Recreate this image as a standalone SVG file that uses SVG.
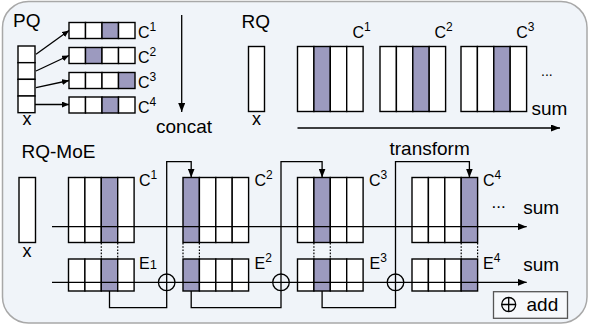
<svg xmlns="http://www.w3.org/2000/svg" width="589" height="330" viewBox="0 0 589 330">
<defs>
<marker id="ah" markerWidth="9" markerHeight="7" refX="9" refY="3.5" orient="auto" markerUnits="userSpaceOnUse"><path d="M0,0 L9,3.5 L0,7 z" fill="#000"/></marker>
<marker id="ahs" markerWidth="7" markerHeight="6" refX="7" refY="3" orient="auto" markerUnits="userSpaceOnUse"><path d="M0,0 L7,3 L0,6 z" fill="#000"/></marker>
</defs>
<style>
.t{font-family:"Liberation Sans",Arial,sans-serif;fill:#000}
.big{font-size:19px}
.lbl{font-size:16px}
.c{fill:#fff;stroke:#000;stroke-width:1.4}
.s{fill:#9c9abf;stroke:#000;stroke-width:1.4}
.ln{stroke:#000;stroke-width:1.3;fill:none}
.dot{stroke:#000;stroke-width:1.2;stroke-dasharray:1.6 1.6}
</style>
<rect x="2.5" y="1.5" width="584.5" height="321.5" rx="26" fill="#f0f4f9" stroke="#a8a8a8" stroke-width="1.5"/>

<g id="pq">
<text class="t big" x="13" y="27">PQ</text>
<g id="pq-x">
<rect class="c" x="18" y="46" width="17" height="16.67"/>
<rect class="c" x="18" y="62.67" width="17" height="16.67"/>
<rect class="c" x="18" y="79.33" width="17" height="16.67"/>
<rect class="c" x="18" y="96" width="17" height="16.67"/>
<text class="t" font-size="18" x="27" y="124.5" text-anchor="middle">x</text>
</g>
<g id="pq-c1">
<rect class="c" x="69" y="22.5" width="16.5" height="16"/><rect class="c" x="85.5" y="22.5" width="16.5" height="16"/><rect class="s" x="102" y="22.5" width="16.5" height="16"/><rect class="c" x="118.5" y="22.5" width="16.5" height="16"/>
<text class="t lbl" x="138" y="38">C<tspan font-size="12" dy="-7">1</tspan></text>
</g>
<g id="pq-c2">
<rect class="c" x="69" y="47.5" width="16.5" height="16"/><rect class="s" x="85.5" y="47.5" width="16.5" height="16"/><rect class="c" x="102" y="47.5" width="16.5" height="16"/><rect class="c" x="118.5" y="47.5" width="16.5" height="16"/>
<text class="t lbl" x="138" y="63.3">C<tspan font-size="12" dy="-7">2</tspan></text>
</g>
<g id="pq-c3">
<rect class="c" x="69" y="72.5" width="16.5" height="16"/><rect class="c" x="85.5" y="72.5" width="16.5" height="16"/><rect class="c" x="102" y="72.5" width="16.5" height="16"/><rect class="s" x="118.5" y="72.5" width="16.5" height="16"/>
<text class="t lbl" x="138" y="88">C<tspan font-size="12" dy="-7">3</tspan></text>
</g>
<g id="pq-c4">
<rect class="c" x="69" y="97" width="16.5" height="16"/><rect class="c" x="85.5" y="97" width="16.5" height="16"/><rect class="s" x="102" y="97" width="16.5" height="16"/><rect class="c" x="118.5" y="97" width="16.5" height="16"/>
<text class="t lbl" x="138" y="112.5">C<tspan font-size="12" dy="-7">4</tspan></text>
</g>
<text class="t big" x="156" y="133">concat</text>
</g>

<g id="rq">
<text class="t big" x="241.5" y="27.5">RQ</text>
<g id="rq-x">
<rect class="c" x="248.5" y="46.5" width="16" height="65"/>
<text class="t" font-size="18" x="256.5" y="124.5" text-anchor="middle">x</text>
</g>
<g id="rq-c1">
<rect class="c" x="297.5" y="46.5" width="16.4" height="65"/><rect class="s" x="313.9" y="46.5" width="16.4" height="65"/><rect class="c" x="330.3" y="46.5" width="16.4" height="65"/><rect class="c" x="346.7" y="46.5" width="16.4" height="65"/>
<text class="t lbl" x="352.5" y="37.7">C<tspan font-size="12" dy="-7">1</tspan></text>
</g>
<g id="rq-c2">
<rect class="c" x="380" y="46.5" width="16.4" height="65"/><rect class="c" x="396.4" y="46.5" width="16.4" height="65"/><rect class="s" x="412.8" y="46.5" width="16.4" height="65"/><rect class="c" x="429.2" y="46.5" width="16.4" height="65"/>
<text class="t lbl" x="434.5" y="37.7">C<tspan font-size="12" dy="-7">2</tspan></text>
</g>
<g id="rq-c3">
<rect class="c" x="461" y="46.5" width="16.4" height="65"/><rect class="c" x="477.4" y="46.5" width="16.4" height="65"/><rect class="s" x="493.8" y="46.5" width="16.4" height="65"/><rect class="c" x="510.2" y="46.5" width="16.4" height="65"/>
<text class="t lbl" x="516.3" y="37.7">C<tspan font-size="12" dy="-7">3</tspan></text>
</g>
<text class="t" font-size="14" x="541" y="76">...</text>
<text class="t big" x="531.5" y="115">sum</text>
</g>

<g id="moe">
<text class="t big" x="21.5" y="158">RQ-MoE</text>
<g id="moe-x">
<rect class="c" x="19" y="177.5" width="16.5" height="65"/>
<text class="t" font-size="18" x="27" y="256.5" text-anchor="middle">x</text>
</g>
<g id="moe-c1">
<rect class="c" x="68.5" y="177.5" width="16.4" height="65"/><rect class="c" x="84.9" y="177.5" width="16.4" height="65"/><rect class="s" x="101.3" y="177.5" width="16.4" height="65"/><rect class="c" x="117.7" y="177.5" width="16.4" height="65"/>
<text class="t lbl" x="139" y="185.5">C<tspan font-size="12" dy="-7">1</tspan></text>
</g>
<g id="moe-e1">
<rect class="c" x="68.5" y="259" width="16.4" height="32"/><rect class="c" x="84.9" y="259" width="16.4" height="32"/><rect class="s" x="101.3" y="259" width="16.4" height="32"/><rect class="c" x="117.7" y="259" width="16.4" height="32"/>
<text class="t lbl" x="139" y="269">E<tspan font-size="13">1</tspan></text>
</g>
<g id="moe-c2">
<rect class="s" x="183" y="177.5" width="16.4" height="65"/><rect class="c" x="199.4" y="177.5" width="16.4" height="65"/><rect class="c" x="215.8" y="177.5" width="16.4" height="65"/><rect class="c" x="232.2" y="177.5" width="16.4" height="65"/>
<text class="t lbl" x="254.5" y="185.5">C<tspan font-size="12" dy="-7">2</tspan></text>
</g>
<g id="moe-e2">
<rect class="s" x="183" y="259" width="16.4" height="32"/><rect class="c" x="199.4" y="259" width="16.4" height="32"/><rect class="c" x="215.8" y="259" width="16.4" height="32"/><rect class="c" x="232.2" y="259" width="16.4" height="32"/>
<text class="t lbl" x="254.5" y="269">E<tspan font-size="12" dy="-7">2</tspan></text>
</g>
<g id="moe-c3">
<rect class="c" x="297.5" y="177.5" width="16.4" height="65"/><rect class="s" x="313.9" y="177.5" width="16.4" height="65"/><rect class="c" x="330.3" y="177.5" width="16.4" height="65"/><rect class="c" x="346.7" y="177.5" width="16.4" height="65"/>
<text class="t lbl" x="369" y="185.5">C<tspan font-size="12" dy="-7">3</tspan></text>
</g>
<g id="moe-e3">
<rect class="c" x="297.5" y="259" width="16.4" height="32"/><rect class="s" x="313.9" y="259" width="16.4" height="32"/><rect class="c" x="330.3" y="259" width="16.4" height="32"/><rect class="c" x="346.7" y="259" width="16.4" height="32"/>
<text class="t lbl" x="369.5" y="269">E<tspan font-size="12" dy="-7">3</tspan></text>
</g>
<g id="moe-c4">
<rect class="c" x="412" y="177.5" width="16.4" height="65"/><rect class="c" x="428.4" y="177.5" width="16.4" height="65"/><rect class="c" x="444.8" y="177.5" width="16.4" height="65"/><rect class="s" x="461.2" y="177.5" width="16.4" height="65"/>
<text class="t lbl" x="483" y="185.5">C<tspan font-size="12" dy="-7">4</tspan></text>
</g>
<g id="moe-e4">
<rect class="c" x="412" y="259" width="16.4" height="32"/><rect class="c" x="428.4" y="259" width="16.4" height="32"/><rect class="c" x="444.8" y="259" width="16.4" height="32"/><rect class="s" x="461.2" y="259" width="16.4" height="32"/>
<text class="t lbl" x="483" y="269">E<tspan font-size="12" dy="-7">4</tspan></text>
</g>
<text class="t big" x="389.5" y="155">transform</text>
<text class="t" font-size="17" x="491.5" y="207.5">...</text>
<text class="t big" x="523.3" y="214">sum</text>
<text class="t big" x="523.3" y="270.5">sum</text>
<g id="add1"><circle class="ln" cx="166.7" cy="282.3" r="8.3"/></g>
<g id="add2"><circle class="ln" cx="281" cy="282.3" r="8.3"/></g>
<g id="add3"><circle class="ln" cx="395.5" cy="282.3" r="8.3"/></g>
<g id="legend">
<rect x="493.5" y="291.7" width="74" height="26.6" fill="#f6f8fb" stroke="#555" stroke-width="1.3"/>
<circle class="ln" cx="508.7" cy="304.5" r="7"/>
<path class="ln" d="M501.7,304.5 H515.7 M508.7,297.5 V311.5"/>
<text class="t big" x="526.5" y="311">add</text>
</g>
</g>

<g id="connectors">
<line class="ln" x1="36" y1="54.3" x2="69" y2="30.5" marker-end="url(#ahs)"/>
<line class="ln" x1="36" y1="71" x2="69" y2="55.5" marker-end="url(#ahs)"/>
<line class="ln" x1="36" y1="87.7" x2="69" y2="80.5" marker-end="url(#ahs)"/>
<line class="ln" x1="35" y1="104.5" x2="69" y2="104.5" marker-end="url(#ahs)"/>
<line class="ln" x1="181.7" y1="15" x2="181.7" y2="112" marker-end="url(#ah)"/>
<line class="ln" x1="297.5" y1="128" x2="560" y2="128" marker-end="url(#ah)"/>
<line class="ln" x1="52" y1="226.7" x2="526.7" y2="226.7" marker-end="url(#ah)"/>
<line class="ln" x1="52" y1="282.3" x2="526.7" y2="282.3" marker-end="url(#ah)"/>
<path class="ln" d="M109.5,291 V307.7 H166.7 V161.7 H191.2 V177.5" marker-end="url(#ah)"/>
<path class="ln" d="M191.2,291 V307.7 H281 V161.7 H322.1 V177.5" marker-end="url(#ah)"/>
<path class="ln" d="M322.1,291 V307.7 H395.5 V161.7 H469.4 V177.5" marker-end="url(#ah)"/>
<path class="dot" d="M101.3,243 V259 M117.7,243 V259 M183,243 V259 M199.4,243 V259 M313.9,243 V259 M330.3,243 V259 M461.2,243 V259 M477.6,243 V259"/>
</g>
</svg>
